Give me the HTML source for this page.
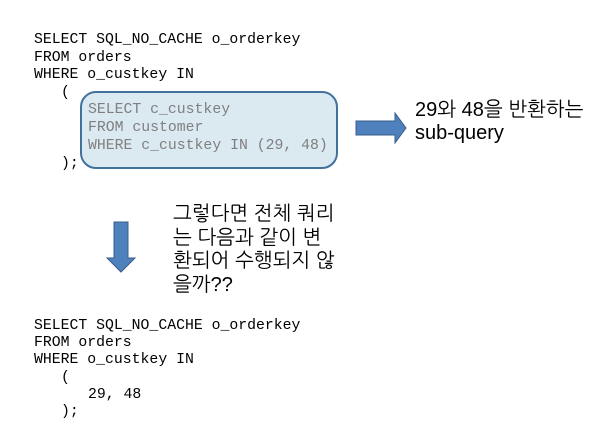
<!DOCTYPE html>
<html><head><meta charset="utf-8"><style>
body{margin:0;width:610px;height:441px;background:#fff;position:relative;overflow:hidden}
.c{position:absolute;font-family:"Liberation Mono",monospace;font-size:14.8px;line-height:17px;white-space:pre;color:#000}
.g{color:#7f7f7f}
.k{position:absolute;font-family:"Liberation Sans","NanumGothic","Noto Sans CJK KR",sans-serif;font-size:20px;white-space:pre;color:#000}
</style></head><body>
<svg width="610" height="441" style="position:absolute;left:0;top:0">
<rect x="81" y="92" width="256" height="76" rx="15" fill="#dbe9f1" stroke="#41719c" stroke-width="2"/>
<polygon points="356,121 395,121 395,113 406,128 395,143 395,135 356,135" fill="#4f81bd" stroke="#385d8a" stroke-width="1"/>
<polygon points="114,222 128,222 128,258 135,258 121,272 107,258 114,258" fill="#4f81bd" stroke="#385d8a" stroke-width="1"/>
</svg>
<div class="c" style="left:34px;top:32px">SELECT SQL_NO_CACHE o_orderkey</div>
<div class="c" style="left:34px;top:49.5px">FROM orders</div>
<div class="c" style="left:34px;top:67px">WHERE o_custkey IN</div>
<div class="c" style="left:61px;top:85px">(</div>
<div class="c g" style="left:88px;top:102px">SELECT c_custkey</div>
<div class="c g" style="left:88px;top:120px">FROM customer</div>
<div class="c g" style="left:88px;top:138px">WHERE c_custkey IN (29, 48)</div>
<div class="c" style="left:61px;top:156px">);</div>
<div class="k" style="left:415px;top:99px;line-height:23px">29와 48을 반환하는
sub-query</div>
<div class="k" style="left:173px;top:203px;line-height:23.7px">그렇다면 전체 쿼리
는 다음과 같이 변
환되어 수행되지 않
을까??</div>
<div class="c" style="left:34px;top:317.5px">SELECT SQL_NO_CACHE o_orderkey</div>
<div class="c" style="left:34px;top:334.5px">FROM orders</div>
<div class="c" style="left:34px;top:351.5px">WHERE o_custkey IN</div>
<div class="c" style="left:61px;top:369.5px">(</div>
<div class="c" style="left:88px;top:386.5px">29, 48</div>
<div class="c" style="left:61px;top:403.5px">);</div>
</body></html>
